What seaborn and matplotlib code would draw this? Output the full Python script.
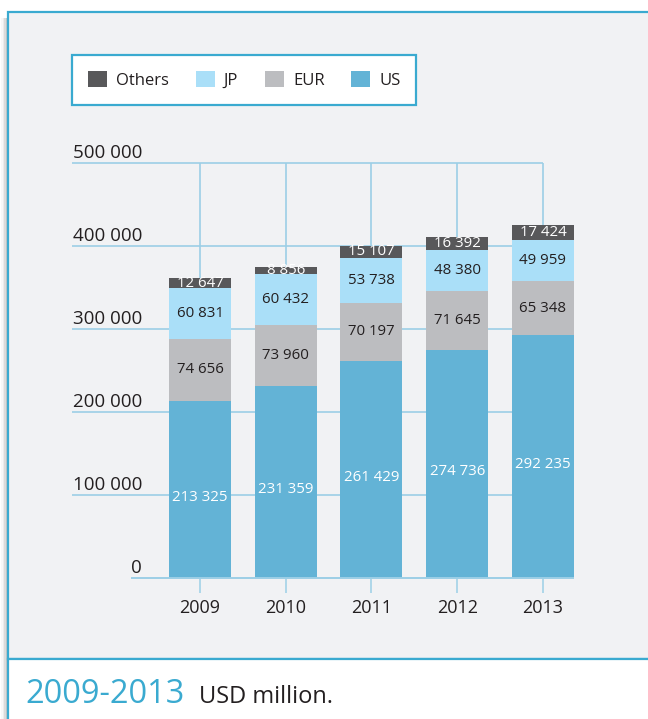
import matplotlib
matplotlib.use("Agg")
import matplotlib.pyplot as plt
from matplotlib.patches import Rectangle, Patch
import numpy as np
import pandas as pd
import seaborn as sns

# ---- data ----
years = ["2009", "2010", "2011", "2012", "2013"]
us = [213325, 231359, 261429, 274736, 292235]
eur = [74656, 73960, 70197, 71645, 65348]
jp = [60831, 60432, 53738, 48380, 49959]
others = [12647, 8856, 15107, 16392, 17424]
series_names = ["Others", "JP", "EUR", "US"]
y_ticks = [0, 100000, 200000, 300000, 400000, 500000]
footer_range = "2009-2013"
footer_unit = "USD million."

# ---- style ----
sns.set_theme(style="white")
plt.rcParams["font.family"] = ["Open Sans", "DejaVu Sans"]

C_US = "#63b3d6"
C_EUR = "#bcbdc0"
C_JP = "#aadff8"
C_OTH = "#58585a"
C_CYAN = "#3aaad0"
C_GRID = "#9ccfe6"
C_TEXT = "#231f20"
C_PANEL = "#f1f2f4"

W, H = 648, 719
fig = plt.figure(figsize=(W / 100, H / 100), dpi=100, facecolor="white")

def fx(px):
    return px / W

def fy(py):
    return 1 - py / H

# panel shadow
for i, a in enumerate([0.05, 0.09, 0.14, 0.2]):
    fig.patches.append(Rectangle((fx(1 + i * 1.6), fy(719)), fx(8 - (1 + i * 1.6)), fy(18) - fy(719),
                                 transform=fig.transFigure, facecolor="#7a7a7a", alpha=a,
                                 edgecolor="none", zorder=0))
# panel
fig.patches.append(Rectangle((fx(8), fy(659)), fx(700), fy(12) - fy(659),
                             transform=fig.transFigure, facecolor=C_PANEL,
                             edgecolor=C_CYAN, linewidth=1.6, zorder=1))
fig.patches.append(Rectangle((fx(8), fy(721)), fx(700), fy(659) - fy(721),
                             transform=fig.transFigure, facecolor="white",
                             edgecolor=C_CYAN, linewidth=1.6, zorder=1))

# axes geometry
px_left, px_right, px_top, px_bottom = 72, 600, 150, 578
x0_px, step_px = 200, 85.75
y_scale = 415 / 500000  # px per unit
ax = fig.add_axes([fx(px_left), fy(px_bottom), fx(px_right - px_left), fy(px_top) - fy(px_bottom)])
ax.set_facecolor("none")
ax.set_zorder(3)

df = pd.DataFrame({"year": years, "US": us, "EUR": eur, "JP": jp, "Others": others})
df["c_us"] = df["US"]
df["c_eur"] = df["c_us"] + df["EUR"]
df["c_jp"] = df["c_eur"] + df["JP"]
df["c_oth"] = df["c_jp"] + df["Others"]

bw = 62 / step_px
for col, color in [("c_oth", C_OTH), ("c_jp", C_JP), ("c_eur", C_EUR), ("c_us", C_US)]:
    sns.barplot(data=df, x="year", y=col, color=color, saturation=1, width=bw,
                errorbar=None, linewidth=0, edgecolor="none", ax=ax, zorder=2)

xl = (px_left - x0_px) / step_px
xr = (px_right - x0_px) / step_px
ax.set_xlim(xl, xr)
ax.set_ylim(0, (px_bottom - px_top) / y_scale)

# grid
n = len(years)
ax.hlines([v for v in y_ticks if v > 0], xl, n - 1, color=C_GRID, lw=1.2, zorder=0)
ax.vlines(range(n), 0, max(y_ticks), color=C_GRID, lw=1.2, zorder=0)
ax.hlines(0, (131 - x0_px) / step_px, n - 1 + bw / 2, color=C_GRID, lw=1.4, zorder=3,
          clip_on=False)

for s in ax.spines.values():
    s.set_visible(False)
ax.set_xlabel("")
ax.set_ylabel("")
ax.set_yticks([])
ax.tick_params(axis="x", length=10.8, width=1.1, color=C_GRID, labelsize=13,
               labelcolor=C_TEXT, pad=4.5, bottom=True)

# y tick labels (right aligned, sitting on the line)
lab_x = (142 - x0_px) / step_px
for v in y_ticks:
    ax.text(lab_x, v + 5 / y_scale, f"{v:,}".replace(",", " "), ha="right", va="baseline",
            fontsize=13.5, color=C_TEXT)

# segment labels
def fmt(v):
    return f"{v:,}".replace(",", " ")

for i in range(n):
    segs = [(0, us[i], "white"),
            (us[i], eur[i], C_TEXT),
            (us[i] + eur[i], jp[i], C_TEXT),
            (us[i] + eur[i] + jp[i], others[i], "white")]
    for k, (base, val, tc) in enumerate(segs):
        yc = base + val / 2
        if k == 0:
            yc -= 8 / y_scale
        ax.text(i, yc, fmt(val), ha="center", va="center", fontsize=10.8, color=tc, zorder=5)

# legend
handles = [Patch(facecolor=c, edgecolor="none") for c in [C_OTH, C_JP, C_EUR, C_US]]
leg = fig.legend(handles, series_names, loc="upper left", bbox_to_anchor=(fx(72), fy(55)),
                 ncol=4, frameon=True, fancybox=False, fontsize=12, handlelength=1.14,
                 handleheight=1.14, handletextpad=0.55, columnspacing=1.6, borderpad=0.95,
                 borderaxespad=0)
leg.get_frame().set_edgecolor(C_CYAN)
leg.get_frame().set_linewidth(1.6)
leg.get_frame().set_facecolor("white")
leg.get_frame().set_alpha(1)
for t in leg.get_texts():
    t.set_color(C_TEXT)

# footer
fig.text(fx(25), fy(703), footer_range, color=C_CYAN, fontsize=23.5, va="baseline", ha="left")
fig.text(fx(199), fy(703), footer_unit, color=C_TEXT, fontsize=17, va="baseline", ha="left")

fig.savefig("out.png", dpi=100, facecolor="white")
